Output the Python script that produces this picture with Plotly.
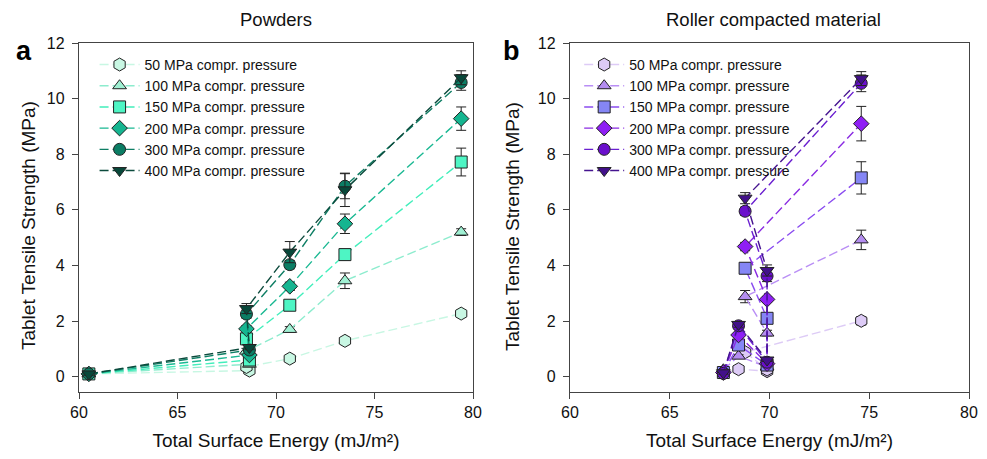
import plotly.graph_objects as go
from plotly.subplots import make_subplots

# ---------------- data ----------------
series_names = ["50 MPa compr. pressure", "100 MPa compr. pressure", "150 MPa compr. pressure",
                "200 MPa compr. pressure", "300 MPa compr. pressure", "400 MPa compr. pressure"]

# Powders (panel a) - points in drawing order
x_powder = [60.5, 68.65, 68.5, 70.7, 73.5, 79.4]
pw_50 = [0.10, 0.22, 0.35, 0.65, 1.29, 2.27]
pw_100 = [0.10, 0.45, 0.92, 1.70, 3.45, 5.20]
pw_150 = [0.10, 0.60, 1.36, 2.57, 4.39, 7.72]
pw_200 = [0.10, 0.78, 1.72, 3.25, 5.50, 9.28]
pw_300 = [0.10, 0.96, 2.25, 4.03, 6.85, 10.58]
pw_400 = [0.10, 1.05, 2.45, 4.48, 6.72, 10.75]
pw_err_50 = [0.05, 0.05, 0.05, 0.08, 0.10, 0.12]
pw_err_100 = [0.05, 0.05, 0.10, 0.10, 0.28, 0.12]
pw_err_150 = [0.05, 0.05, 0.10, 0.10, 0.20, 0.50]
pw_err_200 = [0.05, 0.05, 0.12, 0.15, 0.35, 0.42]
pw_err_300 = [0.05, 0.05, 0.15, 0.15, 0.45, 0.28]
pw_err_400 = [0.05, 0.08, 0.18, 0.38, 0.60, 0.25]

# Roller compacted material (panel b) - points in drawing order
x_roller = [67.69, 68.45, 69.88, 69.88, 68.78, 74.6]
rc_50 = [0.12, 0.27, 0.20, 0.26, 0.88, 2.01]
rc_100 = [0.25, 0.74, 0.35, 1.57, 2.88, 4.92]
rc_150 = [0.15, 1.14, 0.42, 2.10, 3.90, 7.15]
rc_200 = [0.15, 1.50, 0.47, 2.78, 4.68, 9.10]
rc_300 = [0.12, 1.83, 0.52, 3.62, 5.95, 10.55]
rc_400 = [0.14, 1.88, 0.60, 3.82, 6.42, 10.72]
rc_err_50 = [0.05, 0.05, 0.05, 0.05, 0.08, 0.15]
rc_err_100 = [0.05, 0.05, 0.05, 0.10, 0.22, 0.35]
rc_err_150 = [0.05, 0.08, 0.05, 0.10, 0.18, 0.58]
rc_err_200 = [0.05, 0.08, 0.05, 0.10, 0.15, 0.62]
rc_err_300 = [0.05, 0.10, 0.05, 0.20, 0.15, 0.30]
rc_err_400 = [0.05, 0.10, 0.05, 0.20, 0.20, 0.25]

x_ticks = [60, 65, 70, 75, 80]
y_ticks = [0, 2, 4, 6, 8, 10, 12]

# ---------------- styles ----------------
symbols = ["hexagon", "triangle-up", "square", "diamond", "circle", "triangle-down"]
green_fill = ["#c8f7e3", "#a0f0d3", "#4ef5c4", "#15b590", "#0b7d64", "#08483a"]
green_line = ["#c8f7e3", "#8decce", "#42eebb", "#1ab892", "#0e7e64", "#0b4a3c"]
purple_fill = ["#ddcbf6", "#b48df0", "#8586f5", "#8f1ff5", "#6a0fcc", "#42108a"]
purple_line = ["#ddcbf6", "#b98ef5", "#8a4cf0", "#8a2be2", "#6a1fd0", "#45148f"]

FONT = "Arial, Liberation Sans, sans-serif"

powder_vals = [pw_50, pw_100, pw_150, pw_200, pw_300, pw_400]
powder_errs = [pw_err_50, pw_err_100, pw_err_150, pw_err_200, pw_err_300, pw_err_400]
roller_vals = [rc_50, rc_100, rc_150, rc_200, rc_300, rc_400]
roller_errs = [rc_err_50, rc_err_100, rc_err_150, rc_err_200, rc_err_300, rc_err_400]

fig = make_subplots(rows=1, cols=2, horizontal_spacing=0.1)

for i in range(6):
    fig.add_trace(go.Scatter(
        x=x_powder, y=powder_vals[i], name=series_names[i], mode="lines+markers",
        line=dict(color=green_line[i], width=1.4, dash="9px,4px"),
        marker=dict(symbol=symbols[i], size=12 if symbols[i] != "hexagon" else 13,
                    color=green_fill[i], line=dict(color="#222222", width=1)),
        error_y=dict(type="data", array=powder_errs[i], color="#222222", thickness=1, width=5),
        legend="legend",
    ), row=1, col=1)

for i in range(6):
    fig.add_trace(go.Scatter(
        x=x_roller, y=roller_vals[i], name=series_names[i], mode="lines+markers",
        line=dict(color=purple_line[i], width=1.4, dash="9px,4px"),
        marker=dict(symbol=symbols[i], size=12 if symbols[i] != "hexagon" else 13,
                    color=purple_fill[i], line=dict(color="#222222", width=1)),
        error_y=dict(type="data", array=roller_errs[i], color="#222222", thickness=1, width=5),
        legend="legend2",
    ), row=1, col=2)

axis_common = dict(showline=True, mirror=True, linecolor="#444444", linewidth=1.3,
                   ticks="outside", ticklen=6, tickcolor="#444444", showgrid=False,
                   zeroline=False, automargin=False,
                   tickfont=dict(family=FONT, size=16, color="#111111"))

for c, dom in [(1, [0, 0.4427]), (2, [0.5516, 1.0])]:
    fig.update_xaxes(range=[60, 80], tickvals=x_ticks, domain=dom,
                     title=dict(text="Total Surface Energy (mJ/m²)", font=dict(family=FONT, size=19, color="#111111"),
                                standoff=13),
                     ticklabelstandoff=0, **axis_common, row=1, col=c)
    fig.update_yaxes(range=[-0.55, 12], tickvals=y_ticks,
                     ticklabelstandoff=4, **axis_common, row=1, col=c)

legend_common = dict(font=dict(family=FONT, size=14, color="#111111"), bgcolor="rgba(255,255,255,0)",
                     yanchor="top", xanchor="left", itemwidth=40, tracegroupgap=0)
title_font = dict(family=FONT, size=18.5, color="#111111")
fig.update_layout(
    width=987, height=459,
    margin=dict(l=71, r=26, t=35, b=75, autoexpand=False),
    paper_bgcolor="white", plot_bgcolor="white",
    font=dict(family=FONT, color="#111111"),
    legend=dict(x=0.0175, y=0.983, **legend_common),
    legend2=dict(x=0.562, y=0.983, **legend_common),
    annotations=[
        dict(text="Powders", x=0.2213, y=1.066, xref="paper", yref="paper", showarrow=False,
             font=title_font, xanchor="center", yanchor="middle"),
        dict(text="Roller compacted material", x=0.78, y=1.066, xref="paper", yref="paper", showarrow=False,
             font=title_font, xanchor="center", yanchor="middle"),
        dict(text="<b>a</b>", x=-0.0618, y=0.976, xref="paper", yref="paper", showarrow=False,
             font=dict(family=FONT, size=27, color="#000000"), xanchor="center", yanchor="middle"),
        dict(text="<b>b</b>", x=0.4865, y=0.976, xref="paper", yref="paper", showarrow=False,
             font=dict(family=FONT, size=27, color="#000000"), xanchor="center", yanchor="middle"),
        dict(text="Tablet Tensile Strength (MPa)", x=-0.0573, y=0.4756, xref="paper", yref="paper",
             showarrow=False, textangle=-90, font=dict(family=FONT, size=19, color="#111111"),
             xanchor="center", yanchor="middle"),
        dict(text="Tablet Tensile Strength (MPa)", x=0.4865, y=0.4756, xref="paper", yref="paper",
             showarrow=False, textangle=-90, font=dict(family=FONT, size=19, color="#111111"),
             xanchor="center", yanchor="middle"),
    ],
)

fig.write_html("out.html")
